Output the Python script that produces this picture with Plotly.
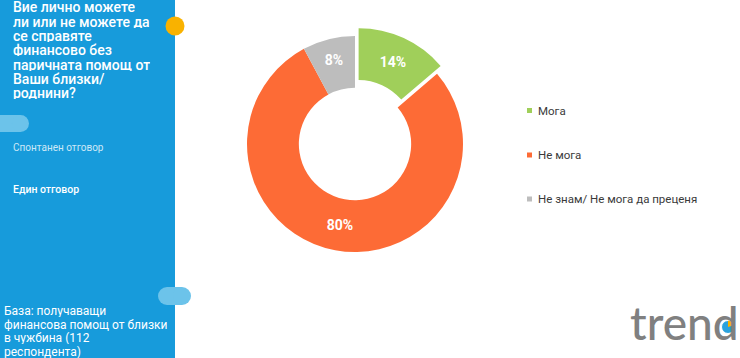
import plotly.graph_objects as go

W, H = 740, 358

# ---- data ----
labels = ["Мога", "Не мога", "Не знам/ Не мога да преценя"]
values = [14, 80, 8]
colors = ["#a0cf5a", "#fd6b36", "#bdbdbd"]
pulls = [0.08, 0, 0]

title_lines = ["Вие лично можете", "ли или не можете да", "се справяте",
               "финансово без", "паричната помощ от", "Ваши близки/", "роднини?"]
note1 = "Спонтанен отговор"
note2 = "Един отговор"
base_lines = ["База: получаващи", "финансова помощ от близки", "в чужбина (112", "респондента)"]


def px(x):
    return x / W


def py(y):
    return 1 - y / H


# pie geometry (pixels)
cx, cy, r = 355, 144, 108
half = r * (1 + max(pulls))

fig = go.Figure()
fig.add_trace(go.Pie(
    labels=labels, values=values, sort=False, direction="clockwise", rotation=0,
    hole=0.52, pull=pulls,
    marker=dict(colors=colors, line=dict(color="white", width=0)),
    texttemplate="%{value}%", textposition="inside", insidetextorientation="horizontal",
    textfont=dict(family="Roboto", size=14, color="white", weight="bold"),
    domain=dict(x=[px(cx - half), px(cx + half)], y=[py(cy + half), py(cy - half)]),
    showlegend=False, hoverinfo="label+value",
))

shapes = []
annotations = []

# left blue panel
shapes.append(dict(type="rect", xref="paper", yref="paper", x0=0, x1=px(175), y0=0, y1=1,
                   fillcolor="#179bdb", line=dict(width=0), layer="below"))
# orange dot
shapes.append(dict(type="circle", xref="paper", yref="paper",
                   x0=px(175 - 9.5), x1=px(175 + 9.5), y0=py(26 + 9.5), y1=py(26 - 9.5),
                   fillcolor="#f9b200", line=dict(width=0)))


def pill(x0, x1, y0, y1, color):
    rr = (y1 - y0) / 2
    shapes.append(dict(type="rect", xref="paper", yref="paper",
                       x0=px(x0 + rr), x1=px(x1 - rr), y0=py(y1), y1=py(y0),
                       fillcolor=color, line=dict(width=0)))
    for xc in (x0 + rr, x1 - rr):
        shapes.append(dict(type="circle", xref="paper", yref="paper",
                           x0=px(xc - rr), x1=px(xc + rr), y0=py(y1), y1=py(y0),
                           fillcolor=color, line=dict(width=0)))


pill(-20, 29, 115, 132, "#6cc3ea")
pill(158, 191, 287, 305, "#6cc3ea")

# title lines
for i, t in enumerate(title_lines):
    annotations.append(dict(text=t, x=px(12), y=py(7 + i * 14.3), xref="paper", yref="paper",
                            xanchor="left", yanchor="middle", showarrow=False, height=13,
                            borderpad=0,
                            font=dict(family="Roboto", size=14, color="white", weight=500)))

annotations.append(dict(text=note1, x=px(11), y=py(147), xref="paper", yref="paper",
                        xanchor="left", yanchor="middle", showarrow=False,
                        font=dict(family="Roboto", size=10, color="#cde8f7")))
annotations.append(dict(text=note2, x=px(11), y=py(189), xref="paper", yref="paper",
                        xanchor="left", yanchor="middle", showarrow=False,
                        font=dict(family="Roboto", size=10.5, color="white", weight=500)))
for i, t in enumerate(base_lines):
    annotations.append(dict(text=t, x=px(3), y=py(311 + i * 13.5), xref="paper", yref="paper",
                            xanchor="left", yanchor="middle", showarrow=False, height=12,
                            borderpad=0,
                            font=dict(family="Roboto", size=12, color="white")))

# custom legend
leg_y = [110.5, 155, 199]
for lab, col, yy in zip(labels, colors, leg_y):
    shapes.append(dict(type="rect", xref="paper", yref="paper",
                       x0=px(527), x1=px(532), y0=py(yy + 2.5), y1=py(yy - 2.5),
                       fillcolor=col, line=dict(width=0)))
    annotations.append(dict(text=lab, x=px(536), y=py(yy), xref="paper", yref="paper",
                            xanchor="left", yanchor="middle", showarrow=False,
                            font=dict(family="Roboto", size=11.5, color="#3a3a3a")))

# logo
annotations.append(dict(text="trend", x=px(629), y=py(322), xref="paper", yref="paper",
                        xanchor="left", yanchor="middle", showarrow=False, borderpad=0,
                        font=dict(family="Lato", size=46, color="#808080", weight=500)))
shapes.append(dict(type="circle", xref="paper", yref="paper",
                   x0=px(728 - 6.5), x1=px(728 + 6.5), y0=py(327 + 6.5), y1=py(327 - 6.5),
                   fillcolor="#2aa2dd", line=dict(color="white", width=1)))
shapes.append(dict(type="path", xref="paper", yref="paper",
                   path=f"M {px(728)},{py(327)} L {px(728)},{py(320.5)} L {px(732)},{py(321.5)} L {px(734.5)},{py(325)} Z",
                   fillcolor="#f9b200", line=dict(width=0)))

fig.update_layout(
    width=W, height=H, margin=dict(l=0, r=0, t=0, b=0),
    paper_bgcolor="white", plot_bgcolor="white",
    shapes=shapes, annotations=annotations, showlegend=False,
)

fig.write_html("out.html")
